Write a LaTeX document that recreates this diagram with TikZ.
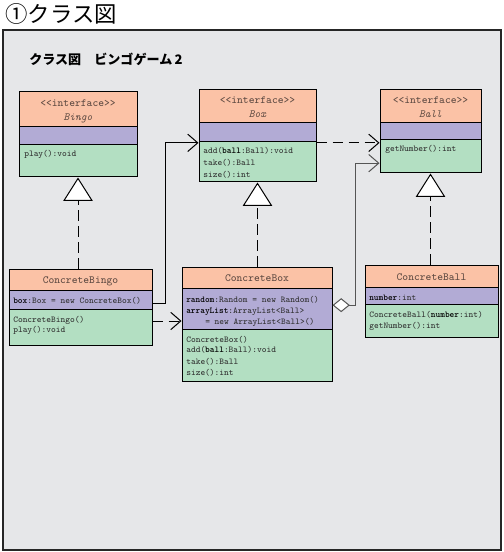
\documentclass[tikz,border=0pt]{standalone}
\usepackage{fontspec}
\newfontfamily\cjk{Noto Sans CJK JP}
\usetikzlibrary{arrows.meta,fit,calc}
\definecolor{framefill}{HTML}{E6E7E9}
\definecolor{hdrfill}{HTML}{FBC2A6}
\definecolor{attrfill}{HTML}{B2ABD5}
\definecolor{opsfill}{HTML}{B3DFC2}
\definecolor{hdrtext}{HTML}{5E4A42}
\definecolor{bodytext}{HTML}{2E2E2E}
\definecolor{linegray}{HTML}{555555}
\tikzset{
  frame/.style={draw=black!85, fill=framefill, line width=1.1pt, inner sep=0pt},
  comp/.style={draw=black, line width=0.75pt, inner sep=0pt},
  hdr/.style={comp, fill=hdrfill},
  attr/.style={comp, fill=attrfill},
  ops/.style={comp, fill=opsfill},
  hdrtxt/.style={font=\ttfamily\fontsize{8.2pt}{9pt}\selectfont, text=hdrtext, inner sep=0pt, anchor=base},
  hdrname/.style={font=\ttfamily\itshape\fontsize{8.2pt}{9pt}\selectfont, text=hdrtext, inner sep=0pt, anchor=base},
  bodytxt/.style={font=\ttfamily\fontsize{6.7pt}{8pt}\selectfont, text=bodytext, inner sep=0pt, anchor=base west},
  assoc/.style={draw=black, line width=0.75pt, -{Straight Barb[length=7.5pt,width=13pt]}},
  dep/.style={assoc, dash pattern=on 8pt off 4pt},
  agg/.style={draw=linegray, line width=0.75pt, {Diamond[fill=white,length=13pt,width=10.5pt]}-{Straight Barb[length=7.5pt,width=13pt]}},
  real/.style={draw=black, line width=0.75pt, dash pattern=on 8pt off 4pt, -{Triangle[fill=white,length=17.5pt,width=22pt]}}
}
\newcommand{\bb}[1]{{\bfseries\color{black}#1}}
\begin{document}
\begin{tikzpicture}[x=0.75pt,y=-0.75pt]
\useasboundingbox (0,0) rectangle (503,552);
\fill[white] (0,0) rectangle (503,552);
\node[font=\cjk\fontsize{16.8pt}{18pt}\selectfont, anchor=west, inner sep=0pt] (title) at (5,14) {①クラス図};
\node[frame, fit={(3,30)(501,550)}] (frame) {};
\node[font=\cjk\bfseries\fontsize{9.8pt}{11pt}\selectfont, anchor=west, inner sep=0pt] (subtitle) at (29,59) {クラス図　ビンゴゲーム\,2};

% interface Bingo
\node[hdr, fit={(19,92)(137,127)}] (bingoH) {};
\node[attr, fit={(19,127)(137,145)}] (bingoA) {};
\node[ops, fit={(19,145)(137,177)}] (bingoO) {};
\node[hdrtxt] (bingoS) at (78,106.5) {<<interface>>};
\node[hdrname] (bingoN) at (78,120.5) {Bingo};
\node[bodytxt] (bingo1) at (24,157) {play():void};

% interface Box
\node[hdr, fit={(199,90)(316,123)}] (boxH) {};
\node[attr, fit={(199,123)(316,142)}] (boxA) {};
\node[ops, fit={(199,142)(316,182)}] (boxO) {};
\node[hdrtxt] (boxS) at (257.5,103.5) {<<interface>>};
\node[hdrname] (boxN) at (257.5,117.5) {Box};
\node[bodytxt] (box1) at (203,154) {add(\bb{ball}:Ball):void};
\node[bodytxt] (box2) at (203,165.5) {take():Ball};
\node[bodytxt] (box3) at (203,177) {size():int};

% interface Ball
\node[hdr, fit={(380,90)(481,123)}] (ballH) {};
\node[attr, fit={(380,123)(481,140)}] (ballA) {};
\node[ops, fit={(380,140)(481,173)}] (ballO) {};
\node[hdrtxt] (ballS) at (430.5,103.5) {<<interface>>};
\node[hdrname] (ballN) at (430.5,117.5) {Ball};
\node[bodytxt] (ball1) at (385,152) {getNumber():int};

% ConcreteBingo
\node[hdr, fit={(9,269)(152,290)}] (cbingoH) {};
\node[attr, fit={(9,290)(152,309)}] (cbingoA) {};
\node[ops, fit={(9,309)(152,345)}] (cbingoO) {};
\node[hdrtxt] (cbingoN) at (80.5,283.5) {ConcreteBingo};
\node[bodytxt] (cbingo1) at (13,303) {\bb{box}:Box = new ConcreteBox()};
\node[bodytxt] (cbingo2) at (13,322) {ConcreteBingo()};
\node[bodytxt] (cbingo3) at (13,332) {play():void};

% ConcreteBox
\node[hdr, fit={(182,267)(332,288)}] (cboxH) {};
\node[attr, fit={(182,288)(332,329)}] (cboxA) {};
\node[ops, fit={(182,329)(332,381)}] (cboxO) {};
\node[hdrtxt] (cboxN) at (257,281.5) {ConcreteBox};
\node[bodytxt] (cbox1) at (186,302) {\bb{random}:Random = new Random()};
\node[bodytxt] (cbox2) at (186,313) {\bb{arrayList}:ArrayList<Ball>};
\node[bodytxt] (cbox3) at (205,324) {= new ArrayList<Ball>()};
\node[bodytxt] (cbox4) at (186,342) {ConcreteBox()};
\node[bodytxt] (cbox5) at (186,352.5) {add(\bb{ball}:Ball):void};
\node[bodytxt] (cbox6) at (186,364) {take():Ball};
\node[bodytxt] (cbox7) at (186,375) {size():int};

% ConcreteBall
\node[hdr, fit={(365,265)(498,287)}] (cballH) {};
\node[attr, fit={(365,287)(498,304)}] (cballA) {};
\node[ops, fit={(365,304)(498,337)}] (cballO) {};
\node[hdrtxt] (cballN) at (431.5,280.5) {ConcreteBall};
\node[bodytxt] (cball1) at (369,300) {\bb{number}:int};
\node[bodytxt] (cball2) at (369,317) {ConcreteBall(\bb{number}:int)};
\node[bodytxt] (cball3) at (369,328) {getNumber():int};

% realizations
\draw[real] (bingoO.south |- cbingoH.north) -- (bingoO.south);
\draw[real] (boxO.south |- cboxH.north) -- (boxO.south);
\draw[real] (ballO.south |- cballH.north) -- (ballO.south);

% association ConcreteBingo -> Box
\draw[assoc] ([yshift=-3pt]cbingoA.east) -- ++(13,0) |- ([yshift=-1pt]boxO.north west);
% dependency ConcreteBingo -> ConcreteBox
\draw[dep] ([yshift=4.5pt]cbingoO.east) -- ([yshift=4.5pt]cbingoO.east -| cboxA.west);
% dependency Box -> Ball
\draw[dep] ([yshift=-1pt]boxO.north east) -- ([yshift=-1pt]boxO.north east -| ballO.west);
% aggregation ConcreteBox -> Ball
\draw[agg] ([yshift=2.5pt]cboxA.east) -- ++(23,0) |- ([yshift=-5pt]ballO.west);
\end{tikzpicture}
\end{document}
